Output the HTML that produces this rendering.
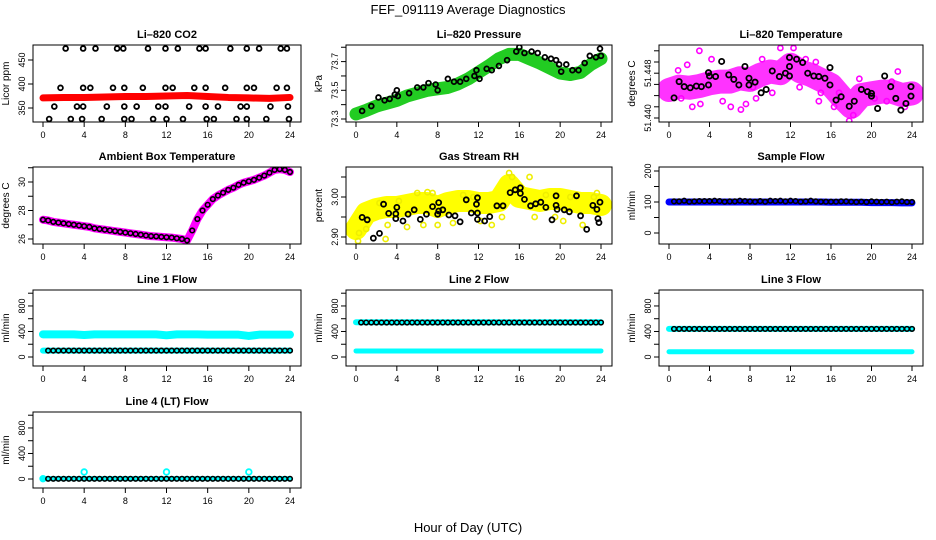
<!DOCTYPE html>
<html><head><meta charset="utf-8"><style>
body{margin:0;background:#fff;}
svg{display:block;font-family:"Liberation Sans",sans-serif;}
</style></head><body>
<svg id="c" width="936" height="540" viewBox="0 0 936 540">
<text x="468" y="14" text-anchor="middle" font-size="13">FEF_091119  Average Diagnostics</text>
<text x="468" y="532" text-anchor="middle" font-size="13">Hour of Day (UTC)</text>
</svg>
<script>
const halfHours=[0.5,1,1.5,2,2.5,3,3.5,4,4.5,5,5.5,6,6.5,7,7.5,8,8.5,9,9.5,10,10.5,11,11.5,12,12.5,13,13.5,14,14.5,15,15.5,16,16.5,17,17.5,18,18.5,19,19.5,20,20.5,21,21.5,22,22.5,23,23.5,24];
const hourly=[0,1,2,3,4,5,6,7,8,9,10,11,12,13,14,15,16,17,18,19,20,21,22,23,24];
const xTicks=[0,4,8,12,16,20,24];

// CO2
const coBandHours=[0,2,4,6,8,10,12,14,16,18,20,22,24];
const coBandVals=[371,372,372,373,374,374,375,376,374,372,371,370,372];
const coBlackHours=[2.2,3.9,5.1,7.2,7.8,10.2,11.9,13.1,15.2,15.8,18.2,19.8,21.0,23.1,23.7,1.7,3.9,4.6,6.8,7.9,9.7,11.9,12.6,14.7,15.8,17.7,19.8,20.5,22.7,23.7,1.1,3.3,3.9,6.2,7.9,9.1,11.2,11.9,14.2,15.8,17.0,19.2,19.8,22.1,23.8,0.6,2.7,3.8,5.7,7.9,8.6,10.7,12.0,13.6,15.9,16.6,18.8,19.8,21.7,23.9];
const coBlackVals=[474,474,474,474,474,474,474,474,474,474,474,474,474,474,474,392,392,392,392,392,392,392,392,392,392,392,392,392,392,392,353,353,353,353,353,353,353,353,353,353,353,353,353,353,353,327,327,327,327,327,327,327,327,327,327,327,327,327,327,327];

// Pressure
const prBandVals=[73.335,73.36,73.39,73.41,73.43,73.46,73.48,73.50,73.51,73.52,73.545,73.58,73.625,73.67,73.72,73.75,73.75,73.72,73.69,73.655,73.62,73.61,73.625,73.68,73.72];
const prBlackHours=[0.6,1.5,2.2,2.8,3.3,3.8,4.0,4.1,5.2,6.0,6.6,7.1,7.8,8.0,9.0,9.6,10.2,10.8,11.6,11.8,12.1,12.8,13.3,14.0,14.8,15.7,16.0,16.5,17.2,17.8,18.5,19.1,19.6,19.9,20.1,20.6,21.2,21.8,22.4,22.9,23.5,23.9,24.0];
const prBlackVals=[73.356,73.39,73.45,73.43,73.44,73.47,73.50,73.46,73.48,73.52,73.52,73.55,73.54,73.50,73.58,73.56,73.56,73.58,73.60,73.64,73.58,73.65,73.64,73.67,73.71,73.77,73.80,73.76,73.77,73.76,73.73,73.72,73.71,73.68,73.63,73.68,73.64,73.64,73.69,73.74,73.73,73.79,73.74];

// Li-820 temperature
const tpBandVals=[51.4450,51.4456,51.4454,51.4457,51.4462,51.4465,51.4465,51.4471,51.4468,51.4477,51.4483,51.4480,51.4495,51.4483,51.4477,51.4468,51.4459,51.4438,51.4420,51.4441,51.4444,51.4447,51.4447,51.4441,51.4444];
const tpBlackHours=[0.5,1.0,1.5,2.1,2.7,3.2,3.9,3.9,4.0,4.6,5.2,5.9,6.4,6.9,7.5,7.9,7.9,8.5,9.1,9.6,10.2,10.9,11.5,11.9,11.9,11.9,12.6,13.2,13.7,14.3,14.8,15.4,15.9,15.9,16.5,17.0,17.8,18.3,19.0,19.6,20.0,20.0,20.6,21.3,21.9,22.4,22.9,23.4,23.9,23.9];
const tpBlackVals=[51.4436,51.4465,51.4456,51.4454,51.4457,51.4456,51.4459,51.4481,51.4475,51.4474,51.4501,51.4477,51.4469,51.4459,51.4492,51.4459,51.4471,51.4464,51.4445,51.4451,51.4484,51.4474,51.4480,51.4508,51.4492,51.4475,51.4505,51.4499,51.4480,51.4475,51.4474,51.4471,51.4490,51.4459,51.4432,51.4438,51.4421,51.4430,51.4451,51.4447,51.4444,51.4439,51.4417,51.4475,51.4456,51.4435,51.4414,51.4426,51.4439,51.4456];
const tpMagHours=[3.0,4.2,1.8,0.9,2.3,3.1,5.3,6.1,7.1,7.6,8.6,9.2,11.0,12.3,13.5,14.5,14.8,16.3,15.0,17.8,18.2,16.8,20.3,21.5,22.0,22.6,23.3,18.8,10.2,8.3,1.2,12.9];
const tpMagVals=[51.4520,51.4505,51.4495,51.4485,51.4420,51.4425,51.4430,51.4420,51.4415,51.4425,51.4435,51.4505,51.4525,51.4525,51.4505,51.4500,51.4430,51.4420,51.4445,51.4395,51.4405,51.4445,51.4435,51.4430,51.4465,51.4483,51.4420,51.4470,51.4445,51.4455,51.4435,51.4455];

// Ambient box temperature
const ambVals=[27.35,27.3,27.2,27.15,27.1,27.05,27.0,26.95,26.9,26.85,26.75,26.7,26.65,26.6,26.55,26.5,26.45,26.4,26.35,26.3,26.25,26.2,26.18,26.15,26.12,26.1,26.05,26.0,25.9,26.6,27.4,28.0,28.4,28.8,29.05,29.25,29.45,29.6,29.8,29.95,30.05,30.15,30.3,30.45,30.65,30.85,30.9,30.85,30.7];
const ambHours=[0,0.5,1,1.5,2,2.5,3,3.5,4,4.5,5,5.5,6,6.5,7,7.5,8,8.5,9,9.5,10,10.5,11,11.5,12,12.5,13,13.5,14,14.5,15,15.5,16,16.5,17,17.5,18,18.5,19,19.5,20,20.5,21,21.5,22,22.5,23,23.5,24];

// Gas stream RH
const rhBandVals=[2.92,2.96,2.97,2.975,2.975,2.98,2.985,2.985,2.975,2.985,2.99,2.99,2.985,2.985,2.99,3.03,3.00,2.995,2.99,2.995,2.995,2.99,2.985,2.985,2.98];
const rhBlackHours=[0.6,1.1,1.7,2.3,2.7,3.2,3.9,3.9,4.0,4.6,5.1,5.7,6.3,6.9,7.5,8.0,8.1,8.1,8.5,9.1,9.7,10.2,10.8,11.3,11.8,11.9,11.9,11.9,12.6,13.1,13.8,14.4,15.1,15.6,16.1,16.1,16.5,17.1,17.6,18.1,18.6,19.2,19.6,19.6,19.7,20.4,20.9,21.6,22.0,22.6,23.2,23.6,23.7,23.8,23.9];
const rhBlackVals=[2.949,2.943,2.897,2.909,2.982,2.959,2.958,2.946,2.974,2.940,2.957,2.968,2.944,2.957,2.976,2.957,2.965,2.986,2.968,2.955,2.953,2.938,2.993,2.960,2.982,2.960,2.944,2.998,2.940,2.951,2.978,2.978,3.011,3.018,3.009,3.023,2.994,2.978,2.983,2.987,2.974,2.943,3.003,2.979,2.969,2.968,2.963,3.003,2.953,2.919,2.979,2.969,2.946,2.936,2.987];
const rhYelHours=[0.2,0.3,1.0,2.9,3.1,5.0,6.6,8.0,9.5,6.0,7.0,7.5,10.5,11.5,13.3,14.3,15.0,15.3,17.0,17.5,19.5,20.3,21.0,22.2,23.3,23.6,18.6,12.2,4.2,2.3];
const rhYelVals=[2.89,2.91,2.92,2.895,2.93,2.925,2.93,2.93,2.935,3.01,3.012,3.01,3.005,3.0,2.93,2.95,3.06,3.05,3.05,2.95,2.95,2.94,3.0,2.93,3.0,3.01,3.005,2.94,2.99,2.985];

// Sample flow
const sfBandVals=[100,100,100,100,100,100,100,100,100,100,100,100,100,100,100,100,99,99,99,99,98,98,98,97,97];
const sfBlackVals=[102,102,104,101,102,103,103,103,104,103,101,102,102,104,103,102,101,103,101,104,103,104,102,104,103,101,102,104,102,101,101,101,101,102,102,101,100,101,100,102,101,100,101,99,101,102,100,100];

// Line flows
const l1CyanHi=[355,355,355,355,345,355,355,355,355,355,355,355,340,355,355,355,350,350,350,350,330,350,350,350,350];
const l1CyanLo=[100,100,100,100,100,100,100,100,100,100,100,100,100,100,100,100,100,100,100,100,100,100,100,100,100];
const l1Black=[100,100,100,100,100,100,100,100,100,100,100,100,100,100,100,100,100,100,100,100,100,100,100,100,100,100,100,100,100,100,100,100,100,100,100,100,100,100,100,100,100,100,100,100,100,100,100,100];
const l2CyanHi=[545,545,545,545,545,545,545,545,545,545,545,545,545,545,545,545,545,545,545,545,545,545,545,545,545];
const l2CyanLo=[95,95,95,95,95,95,95,95,95,95,95,95,95,95,95,95,95,95,95,95,95,95,95,95,95];
const l2Black=[540,540,540,540,540,540,540,540,540,540,540,540,540,540,540,540,540,540,540,540,540,540,540,540,540,540,540,540,540,540,540,540,540,540,540,540,540,540,540,540,540,540,540,540,540,540,540,540];
const l3CyanHi=[440,440,440,440,440,440,440,440,440,440,440,440,440,440,440,440,440,440,440,440,440,440,440,440,440];
const l3CyanLo=[82,82,82,82,82,82,82,82,82,82,82,82,82,82,82,82,82,82,82,82,82,82,82,82,82];
const l3Black=[440,440,440,440,440,440,440,440,440,440,440,440,440,440,440,440,440,440,440,440,440,440,440,440,440,440,440,440,440,440,440,440,440,440,440,440,440,440,440,440,440,440,440,440,440,440,440,440];
const l4CyanLo=[5,5,5,5,5,5,5,5,5,5,5,5,5,5,5,5,5,5,5,5,5,5,5,5,5];
const l4SpikeHours=[0,4,12,20];
const l4SpikeVals=[5,110,110,110];
const l4Black=[3,3,3,3,3,3,3,3,3,3,3,3,3,3,3,3,3,3,3,3,3,3,3,3,3,3,3,3,3,3,3,3,3,3,3,3,3,3,3,3,3,3,3,3,3,3,3,3];

const NS='http://www.w3.org/2000/svg';
const svg=document.getElementById('c');
const colL=[33,346,659], colR=[301,612,923];
const rowT=[45,167,290,412], rowB=[122,244,366,488];

function mk(tag,attrs,parent){const e=document.createElementNS(NS,tag);for(const k in attrs)e.setAttribute(k,attrs[k]);(parent||svg).appendChild(e);return e;}

function panel(c,r,name,title,ylab,v0,y0,k,ticks,labels){
  const L=colL[c],R=colR[c],T=rowT[r],B=rowB[r];
  const g=mk('g',{});
  
  
  const xs=h=>L+10+h*(R-L-21)/24;
  const ys=v=>y0-(v-v0)*k;
  const clip=mk('clipPath',{id:'clip'+name},g);
  mk('rect',{x:L,y:T,width:R-L,height:B-T},clip);
  const marks=mk('g',{'clip-path':'url(#clip'+name+')'},g);
  
  
  const box=mk('rect',{x:L,y:T,width:R-L,height:B-T,fill:'none',stroke:'#000','stroke-width':1},g);
  
  
  const t=mk('text',{x:(L+R)/2,y:T-7,'text-anchor':'middle','font-size':11,'font-weight':'bold'},g);
  t.textContent=title;
  
  
  const yl=mk('text',{transform:`translate(${L-24},${(T+B)/2}) rotate(-90)`,'text-anchor':'middle','font-size':10},g);
  yl.textContent=ylab;
  
  
  for(const h of xTicks){
    const x=xs(h);
    mk('line',{x1:x,y1:B,x2:x,y2:B+5,stroke:'#000'},g);
    const tl=mk('text',{x:x,y:B+16,'text-anchor':'middle','font-size':9},g);
    tl.textContent=h;
    
    
  }
  ticks.forEach(v=>{
    const y=ys(v);
    mk('line',{x1:L-5,y1:y,x2:L,y2:y,stroke:'#000'},g);
  });
  labels.forEach(v=>{
    const y=ys(v);
    const tl=mk('text',{transform:`translate(${L-8},${y}) rotate(-90)`,'text-anchor':'middle','font-size':9},g);
    tl.textContent=String(v);
    
    
  });
  return {
    band(hours,vals,color,w){
      const p=mk('polyline',{points:hours.map((h,i)=>xs(h)+','+ys(vals[i])).join(' '),fill:'none',stroke:color,'stroke-width':w,'stroke-linejoin':'round','stroke-linecap':'round'},marks);
      
      
    },
    pts(hours,vals,color,rad,sw){
      hours.forEach((h,i)=>{
        const ci=mk('circle',{cx:xs(h),cy:ys(vals[i]),r:rad,fill:'none',stroke:color,'stroke-width':sw},marks);
        
        
      });
    }
  };
}

let p;
p=panel(0,0,'co2','Li\u2013820 CO2','Licor ppm',350,108,0.48,[350,400,450],[350,400,450]);
p.band(coBandHours,coBandVals,'#ff0000',7);
p.pts(coBlackHours,coBlackVals,'#000',2.4,1.8);

p=panel(1,0,'pressure','Li\u2013820 Pressure','kPa',73.3,119,143.5,[73.3,73.4,73.5,73.6,73.7,73.8],[73.3,73.5,73.7]);
p.band(hourly,prBandVals,'#22cc22',13);
p.pts(prBlackHours,prBlackVals,'#000',2.4,1.8);

p=panel(2,0,'li820-temp','Li\u2013820 Temperature','degrees C',51.440,118,5600,[51.440,51.442,51.444,51.446,51.448,51.450,51.452],['51.440','51.448']);
p.band(hourly,tpBandVals,'#ff33ff',24);
p.pts(tpMagHours,tpMagVals,'#ff00ff',2.6,1.6);
p.pts(tpBlackHours,tpBlackVals,'#000',2.6,1.8);

p=panel(0,1,'ambient','Ambient Box Temperature','degrees C',26,239,14.25,[26,27,28,29,30,31],[26,28,30]);
p.band(ambHours,ambVals,'#ff00ff',8);
p.pts(ambHours,ambVals,'#000',2.3,1.6);

p=panel(1,1,'rh','Gas Stream RH','percent',2.90,237,400,[2.90,2.95,3.00,3.05],['2.90','3.00']);
p.band(hourly,rhBandVals,'#ffff00',22);
p.pts(rhYelHours,rhYelVals,'#eeee00',2.6,1.6);
p.pts(rhBlackHours,rhBlackVals,'#000',2.5,1.8);

p=panel(2,1,'sample-flow','Sample Flow','ml/min',0,233,0.31,[0,50,100,150,200],[0,100,200]);
p.band(hourly,sfBandVals,'#0000ff',7);
p.pts(halfHours,sfBlackVals,'#000',2.3,1.6);

const flowTicks=[0,200,400,600,800,1000], flowLabels=[0,400,800];
p=panel(0,2,'line1','Line 1 Flow','ml/min',0,357,0.0638,flowTicks,flowLabels);
p.band(hourly,l1CyanHi,'#00ffff',8);
p.band(hourly,l1CyanLo,'#00ffff',6);
p.pts(halfHours,l1Black,'#000',2.3,1.6);

p=panel(1,2,'line2','Line 2 Flow','ml/min',0,357,0.0638,flowTicks,flowLabels);
p.band(hourly,l2CyanLo,'#00ffff',5);
p.band(hourly,l2CyanHi,'#00ffff',6);
p.pts(halfHours,l2Black,'#000',2.3,1.6);

p=panel(2,2,'line3','Line 3 Flow','ml/min',0,357,0.0638,flowTicks,flowLabels);
p.band(hourly,l3CyanLo,'#00ffff',5);
p.band(hourly,l3CyanHi,'#00ffff',6);
p.pts(halfHours,l3Black,'#000',2.3,1.6);

p=panel(0,3,'line4','Line 4 (LT) Flow','ml/min',0,479,0.0638,flowTicks,flowLabels);
p.band(hourly,l4CyanLo,'#00ffff',5);
p.pts(l4SpikeHours,l4SpikeVals,'#00ffff',2.8,1.8);
p.pts(halfHours,l4Black,'#000',2.3,1.6);
</script>
</body></html>
